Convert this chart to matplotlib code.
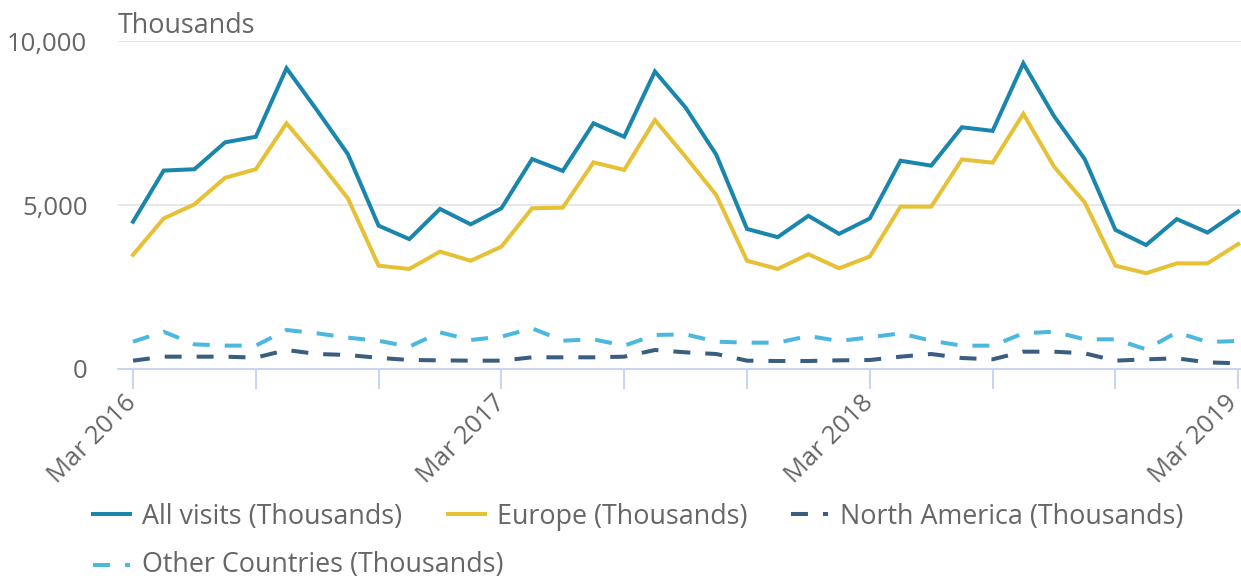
import matplotlib
matplotlib.use("Agg")
import matplotlib.pyplot as plt
from matplotlib.lines import Line2D
from matplotlib.ticker import FuncFormatter, FixedLocator, NullFormatter
from matplotlib.transforms import blended_transform_factory, offset_copy

plt.rcParams['font.family'] = ['Open Sans', 'DejaVu Sans']
plt.rcParams['lines.scale_dashes'] = False

# ---- data (thousands of visits, monthly Mar 2016 - Mar 2019) ----
months = ["Mar 2016", "Apr 2016", "May 2016", "Jun 2016", "Jul 2016", "Aug 2016",
          "Sep 2016", "Oct 2016", "Nov 2016", "Dec 2016", "Jan 2017", "Feb 2017",
          "Mar 2017", "Apr 2017", "May 2017", "Jun 2017", "Jul 2017", "Aug 2017",
          "Sep 2017", "Oct 2017", "Nov 2017", "Dec 2017", "Jan 2018", "Feb 2018",
          "Mar 2018", "Apr 2018", "May 2018", "Jun 2018", "Jul 2018", "Aug 2018",
          "Sep 2018", "Oct 2018", "Nov 2018", "Dec 2018", "Jan 2019", "Feb 2019",
          "Mar 2019"]
all_visits = [4490, 6050, 6090, 6910, 7080, 9170, 7880, 6550, 4370, 3960, 4880, 4410,
              4900, 6400, 6040, 7490, 7080, 9070, 7970, 6530, 4270, 4020, 4670, 4120,
              4590, 6350, 6200, 7370, 7260, 9320, 7710, 6400, 4240, 3780, 4570, 4160,
              4800]
europe = [3480, 4590, 5020, 5830, 6090, 7490, 6390, 5200, 3150, 3050, 3580, 3300,
          3730, 4900, 4920, 6300, 6070, 7590, 6470, 5300, 3300, 3050, 3500, 3070,
          3430, 4950, 4950, 6390, 6290, 7780, 6170, 5080, 3150, 2920, 3220, 3220,
          3810]
north_america = [254, 376, 376, 376, 346, 579, 457, 427, 340, 275, 264, 254,
                 254, 356, 356, 356, 376, 579, 508, 457, 254, 244, 244, 264,
                 274, 376, 457, 335, 295, 528, 528, 478, 254, 295, 325, 203,
                 173]
other = [832, 1137, 752, 713, 713, 1189, 1087, 955, 860, 681, 1118, 884,
         986, 1240, 864, 905, 711, 1037, 1057, 833, 803, 803, 1006, 854,
         966, 1087, 864, 711, 711, 1087, 1138, 905, 905, 600, 1118, 823,
         854]
series_names = ["All visits (Thousands)", "Europe (Thousands)",
                "North America (Thousands)", "Other Countries (Thousands)"]
y_ticks = [0, 5000, 10000]

# ---- style ----
c_all = '#1b86ad'
c_eur = '#e6c136'
c_na = '#3a5e80'
c_oth = '#4cb8e0'
txt = '#666666'
lw = 2.9
dash = (12.2, 10.8)
fs_tick = 18.5
fs_leg = 19.4

W, H = 1241, 580
fig = plt.figure(figsize=(W / 100, H / 100), dpi=100)
ax = fig.add_axes([118 / W, (H - 369) / H, 1 - 118 / W, (369 - 41) / H])

x = list(range(len(months)))
ax.plot(x, all_visits, color=c_all, lw=lw, solid_joinstyle='miter', zorder=4)
ax.plot(x, europe, color=c_eur, lw=lw, solid_joinstyle='miter', zorder=3)
ax.plot(x, north_america, color=c_na, lw=lw, dashes=dash, dash_capstyle='butt', zorder=3)
ax.plot(x, other, color=c_oth, lw=lw, dashes=dash, dash_capstyle='butt', zorder=3)

ax.set_xlim(-15 / 30.7, (W - 133) / 30.7)
ax.set_ylim(0, 10000)

for s in ['top', 'right', 'left']:
    ax.spines[s].set_visible(False)
ax.spines['bottom'].set_color('#ccd6eb')
ax.spines['bottom'].set_linewidth(1.5)
ax.spines['bottom'].set_zorder(1)

ax.set_yticks(y_ticks)
ax.yaxis.set_major_formatter(FuncFormatter(lambda v, p: f"{int(v):,}"))
ax.tick_params(axis='y', length=0, pad=22, labelsize=fs_tick, labelcolor=txt)
ax.yaxis.grid(True, color='#e6e6e6', lw=1.3)
ax.set_axisbelow(True)

tick_pos = list(range(0, len(months), 4))
ax.xaxis.set_major_locator(FixedLocator(tick_pos))
ax.xaxis.set_major_formatter(NullFormatter())
ax.tick_params(axis='x', length=14.4, width=1.5, color='#ccd6eb')

# rotated year labels (Highcharts keeps the last one inside the chart)
trans = blended_transform_factory(ax.transData, ax.transAxes)
for i in range(0, len(months), 12):
    dx = -5 if i == len(months) - 1 else 0
    t = offset_copy(trans, fig=fig, x=dx, y=-30, units='dots')
    ax.text(i, 0, months[i], transform=t, rotation=45, rotation_mode='anchor',
            ha='right', va='center', fontsize=fs_tick, color=txt, clip_on=False)

fig.text(118 / W, 1 - 26 / H, "Thousands", fontsize=fs_leg, color=txt, va='center', ha='left')

# ---- legend (Highcharts-style row flow) ----
leg = [
    (93, 514, 3, c_all, None, series_names[0]),
    (448, 514, 3, c_eur, None, series_names[1]),
    (791, 514, 3, c_na, dash, series_names[2]),
    (93, 565, 0, c_oth, dash, series_names[3]),
]
for x0, y0, dy, col, ds, name in leg:
    kw = dict(color=col, lw=lw, transform=fig.transFigure)
    if ds:
        kw.update(dashes=ds, dash_capstyle='butt')
    fig.add_artist(Line2D([x0 / W, (x0 + 37) / W], [1 - y0 / H, 1 - y0 / H], **kw))
    fig.text((x0 + 49) / W, 1 - (y0 + dy) / H, name, fontsize=fs_leg, color=txt,
             va='center', ha='left')

fig.savefig("out.png", dpi=100)
